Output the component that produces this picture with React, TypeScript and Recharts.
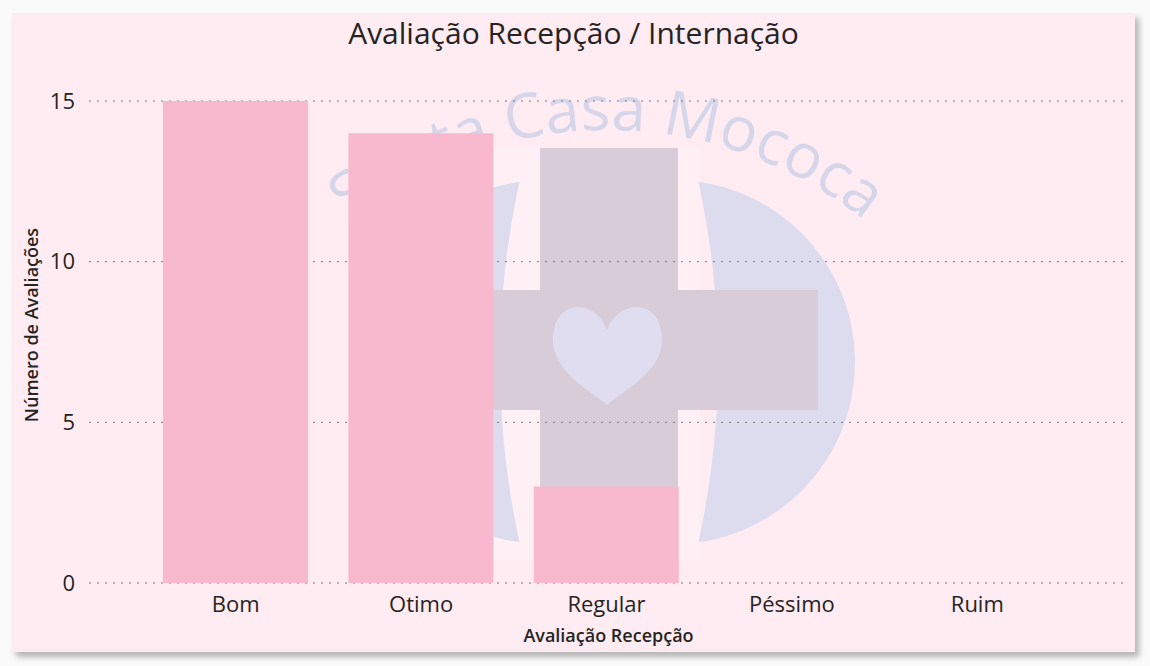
import React from 'react';
import { BarChart, Bar, XAxis, YAxis, CartesianGrid } from 'recharts';

// Dados
const categorias = ['Bom', 'Otimo', 'Regular', 'Péssimo', 'Ruim'];
const avaliacoes = [15, 14, 3, 0, 0];
const yTicks = [0, 5, 10, 15];

const FONTE = "'Segoe UI', 'Open Sans', sans-serif";
const COR_PAINEL = '#ffebf2';
const COR_BARRA = '#f8b9ce';
const COR_TEXTO = '#252423';

const data = categorias.map((categoria, i) => ({ categoria, total: avaliacoes[i] }));

const circulo = (cx: number, cy: number, r: number) =>
  `M ${cx - r} ${cy} A ${r} ${r} 0 1 0 ${cx + r} ${cy} A ${r} ${r} 0 1 0 ${cx - r} ${cy} Z`;

// Marca d'água (logo ao fundo)
const MarcaDagua = () => {
  const cx = 607;
  const cy = 541;
  const r = 411;
  const a = (75 * Math.PI) / 180;
  const arco = `M ${cx - r * Math.sin(a)} ${cy - r * Math.cos(a)} A ${r} ${r} 0 0 1 ${cx + r * Math.sin(a)} ${cy - r * Math.cos(a)}`;
  const cruz = 'M540 148 H678 V290 H818 V410 H678 V560 H540 V410 H400 V290 H540 Z';
  const tudo = 'M -2000 -2000 H 3000 V 3000 H -2000 Z ';
  return (
    <svg width={1150} height={666} style={{ position: 'absolute', left: 0, top: 0 }}>
      <defs>
        <clipPath id="clipDir">
          <path clipRule="evenodd" d={tudo + circulo(-125, 362, 843)} />
        </clipPath>
        <clipPath id="clipEsq">
          <path clipRule="evenodd" d={tudo + circulo(1343, 362, 843)} />
        </clipPath>
        <path id="arcoTexto" d={arco} />
      </defs>
      <rect x={492} y={148} width={208} height={412} fill="#fff0f5" />
      <circle cx={673} cy={362} r={182} fill="#dcdcee" clipPath="url(#clipDir)" />
      <circle cx={545} cy={362} r={182} fill="#dcdcee" clipPath="url(#clipEsq)" />
      <path d={cruz} fill="#d9ccd9" />
      <path
        d="M607 330 C 595 298, 553 298, 553 340 C 553 372, 590 390, 607 405 C 624 390, 662 372, 662 340 C 662 298, 619 298, 607 330 Z"
        fill="#dfddef"
      />
      <text fontFamily={FONTE} fontSize={62} fill="#d6d6ea">
        <textPath href="#arcoTexto" startOffset="50%" textAnchor="middle">
          Santa Casa Mococa
        </textPath>
      </text>
    </svg>
  );
};

const RotuloY = ({ viewBox }: any) => {
  const x = viewBox.x + 19;
  const y = viewBox.y + viewBox.height / 2 - 17;
  return (
    <text
      x={x}
      y={y}
      transform={`rotate(-90, ${x}, ${y})`}
      textAnchor="middle"
      dominantBaseline="central"
      fontFamily={FONTE}
      fontSize={18}
      fontWeight={600}
      fill={COR_TEXTO}
    >
      Número de Avaliações
    </text>
  );
};

const RotuloX = ({ viewBox }: any) => (
  <text
    x={viewBox.x + viewBox.width / 2}
    y={viewBox.y + 52}
    textAnchor="middle"
    dominantBaseline="central"
    fontFamily={FONTE}
    fontSize={18}
    fontWeight={600}
    fill={COR_TEXTO}
  >
    Avaliação Recepção
  </text>
);

const App: React.FC = () => {
  return (
    <div style={{ position: 'absolute', left: 0, top: 0, width: 1150, height: 666, background: '#fafafa', overflow: 'hidden' }}>
      <div
        style={{
          position: 'absolute',
          left: 12,
          top: 13,
          width: 1123,
          height: 639,
          background: COR_PAINEL,
          boxShadow: '4px 5px 6px rgba(0,0,0,0.28)',
        }}
      />
      <MarcaDagua />
      <div
        style={{
          position: 'absolute',
          left: 12,
          top: 14,
          width: 1123,
          textAlign: 'center',
          fontFamily: FONTE,
          fontSize: 30,
          lineHeight: '38px',
          color: COR_TEXTO,
        }}
      >
        Avaliação Recepção / Internação
      </div>
      <div style={{ position: 'absolute', left: 12, top: 13 }}>
        <BarChart width={1123} height={639} data={data} margin={{ top: 88, right: 7, bottom: 0, left: 0 }} barSize={145}>
          <CartesianGrid vertical={false} stroke="#7a7a7a" strokeDasharray="2 6" />
          <XAxis
            dataKey="categoria"
            height={69}
            axisLine={false}
            tickLine={false}
            tickMargin={7}
            padding={{ left: 54, right: 58 }}
            tick={{ fontSize: 22, fill: COR_TEXTO, fontFamily: FONTE }}
            label={<RotuloX />}
          />
          <YAxis
            width={77}
            domain={[0, 15]}
            ticks={yTicks}
            axisLine={false}
            tickLine={false}
            tickMargin={8}
            tick={{ fontSize: 22, fill: COR_TEXTO, fontFamily: FONTE }}
            label={<RotuloY />}
          />
          <Bar dataKey="total" fill={COR_BARRA} isAnimationActive={false} />
        </BarChart>
      </div>
    </div>
  );
};

export default App;
